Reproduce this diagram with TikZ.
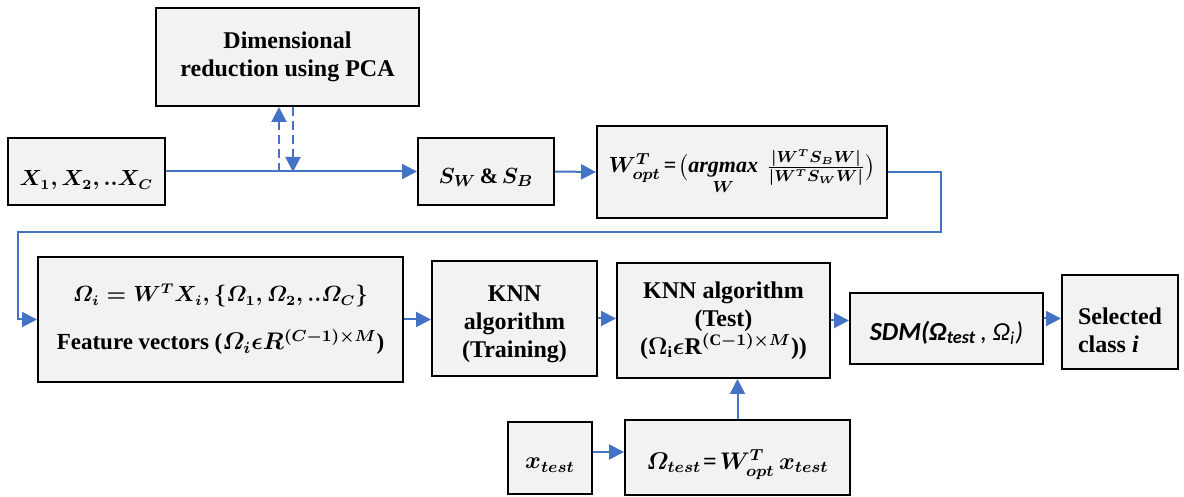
\documentclass[tikz,border=0pt]{standalone}
\usepackage{amsmath}
\usepackage{fontspec}
\setmainfont{Liberation Serif}
\newfontfamily\calfont{Carlito}
\usetikzlibrary{arrows.meta}

\definecolor{flowblue}{HTML}{4472C4}
\definecolor{boxfill}{HTML}{F2F2F2}

\newcommand{\mathsz}[1]{\fontsize{#1}{#1}\selectfont}
% lower a box's contents without changing its declared size
\newcommand{\lowerby}[2]{\raisebox{-#1}[\height][\depth]{#2}}

\tikzset{
  block/.style={draw=black, line width=1pt, fill=boxfill, align=center,
    inner sep=2pt, font=\fontsize{12}{14}\selectfont\bfseries\boldmath},
  flow/.style={draw=flowblue, line width=1pt, -{Triangle[length=7.5pt,width=7.5pt]}},
  pcaflow/.style={flow, dash pattern=on 4.5pt off 2.5pt},
}

\begin{document}
\begin{tikzpicture}[x=0.5pt,y=-0.5pt]
\useasboundingbox (0,0) rectangle (1184,497);

% upper row
\node[block, minimum width=131.5pt, minimum height=49pt] (pca) at (287.5,57)
  {Dimensional\\reduction using PCA};
\node[block, minimum width=78.5pt, minimum height=33.5pt] (xin) at (86.5,171.5)
  {\lowerby{4.5pt}{\mathsz{10.5}$X_1, X_2, ..X_C$}};
\node[block, minimum width=68pt, minimum height=33.5pt] (sw) at (486,171.5)
  {\lowerby{3pt}{\mathsz{11}$S_W$\,\&\,$S_B$}};
\node[block, minimum width=145pt, minimum height=46pt] (wopt) at (742,172)
  {\mathsz{11}$W^{T}_{opt}$\kern1.5pt=\kern1pt$\bigl(\mathop{\mathit{argmax}}\limits_{W}\,\frac{|W^{T}S_{B}W|}{|W^{T}S_{W}W|}\bigr)$};

% middle row
\node[block, minimum width=182.5pt, minimum height=62.5pt] (omega) at (220.5,319.5)
  {\mathsz{10.5}$\varOmega_i = W^{T}X_i, \{\varOmega_1, \varOmega_2, ..\varOmega_C\}$\\[10pt]
   \fontsize{11.5}{13}\selectfont Feature vectors ($\varOmega_i\epsilon R^{(C-1)\times M}$)};
\node[block, minimum width=82.5pt, minimum height=57.5pt] (ktrain) at (514.5,318.5)
  {\lowerby{2.5pt}{\begin{tabular}{@{}c@{}}KNN\\algorithm\\(Training)\end{tabular}}};
\node[block, minimum width=106.5pt, minimum height=57.5pt] (ktest) at (723.5,320.5)
  {KNN algorithm\\(Test)\\($\Omega_{\mathrm{i}}\epsilon\mathrm{R}^{(\mathrm{C}-1)\times M}$))};
\node[block, minimum width=96.5pt, minimum height=35.5pt] (sdm) at (946.5,328.5)
  {\lowerby{2pt}{\calfont\fontsize{13}{15}\selectfont\itshape SDM(Ω\textsubscript{test}\,\mdseries, Ω\textsubscript{\itshape i})}};
\node[block, minimum width=58pt, minimum height=47pt] (sel) at (1120,322)
  {\lowerby{5.5pt}{\begin{tabular}{@{}l@{}}Selected\\class \textit{i}\end{tabular}}};

% lower row
\node[block, minimum width=42pt, minimum height=36pt] (xtest) at (550,458)
  {\lowerby{3.5pt}{$x_{test}$}};
\node[block, minimum width=112.5pt, minimum height=37.5pt] (otest) at (737.5,457.5)
  {\lowerby{3.5pt}{$\varOmega_{test}$\kern1pt=\kern1.5pt$W^{T}_{opt}\,x_{test}$}};

% connectors
\coordinate (pcaup) at (279,172);
\coordinate (pcadown) at (293,172);
\coordinate (turnr) at (941,232);
\coordinate (turnl) at (18,232);

\draw[flow] (xin.east) -- (sw.west);
\draw[pcaflow] (pcaup) -- (pcaup |- pca.south);
\draw[pcaflow] (pcadown |- pca.south) -- (pcadown);
\draw[flow] (sw.east) -- (wopt.west);
\draw[flow] (wopt.east) -| (turnr) -- (turnl) |- (omega.west);
\draw[flow] (omega.east) -- (omega.east -| ktrain.west);
\draw[flow] (ktrain.east) -- (ktrain.east -| ktest.west);
\draw[flow] (ktest.east) -- (ktest.east -| sdm.west);
\draw[flow] ([yshift=5pt]sdm.east) -- ([yshift=5pt]sdm.east -| sel.west);
\draw[flow] ([yshift=3pt]xtest.east) -- ([yshift=3pt]xtest.east -| otest.west);
\draw[flow] (otest.north) -- (otest.north |- ktest.south);
\end{tikzpicture}
\end{document}
